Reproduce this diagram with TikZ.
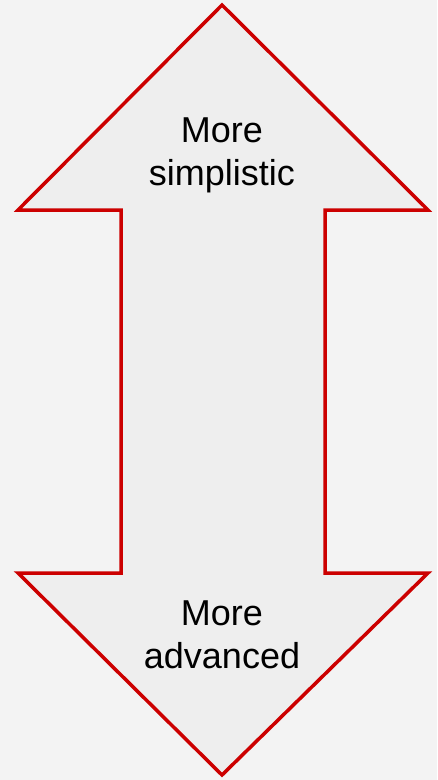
\documentclass[tikz,border=0pt]{standalone}
\usepackage{fontspec}
\setmainfont{Liberation Sans}
\definecolor{bg}{HTML}{F3F3F3}
\definecolor{arrowfill}{HTML}{EEEEEE}
\definecolor{arrowline}{HTML}{CC0000}
\tikzset{
  dblarrow/.style={draw=arrowline, fill=arrowfill, line width=3.5pt, line join=miter},
  lbl/.style={font=\fontsize{36}{43}\selectfont, align=center, text=black, inner sep=0pt, anchor=base}
}
\begin{document}
\begin{tikzpicture}[x=1pt,y=-1pt]
\fill[bg] (0,0) rectangle (437,780);
\useasboundingbox (0,0) rectangle (437,780);
\draw[dblarrow] (222,5) -- (428,210) -- (325,210) -- (325,573) -- (428,573)
  -- (222,775) -- (18,573) -- (121,573) -- (121,210) -- (18,210) -- cycle;
\node[lbl] (top) at (222,185) {More\\simplistic};
\node[lbl] (bot) at (222,668) {More\\advanced};
\end{tikzpicture}
\end{document}
